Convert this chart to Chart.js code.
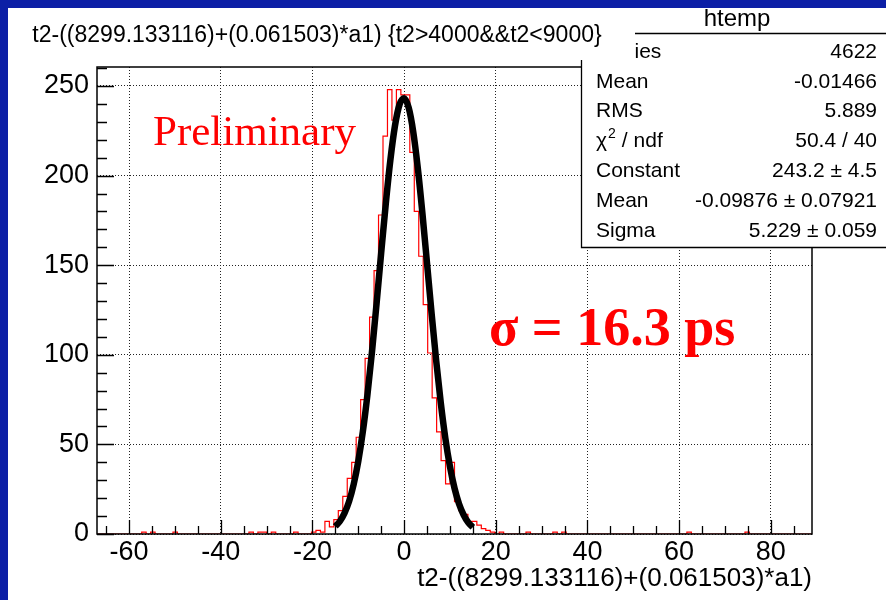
<!DOCTYPE html>
<html><head><meta charset="utf-8">
<script src="https://cdn.jsdelivr.net/npm/chart.js@4.4.1/dist/chart.umd.min.js"></script>
<style>html,body{margin:0;padding:0;background:#fff;overflow:hidden}canvas{display:block}</style>
</head><body>
<canvas id="c" width="886" height="600" style="width:886px;height:600px"></canvas>
<script>
// ---- data ----
const histTitle = 't2-((8299.133116)+(0.061503)*a1) {t2>4000&&t2<9000}';
const xAxisTitle = 't2-((8299.133116)+(0.061503)*a1)';
const xTickValues = [-60, -40, -20, 0, 20, 40, 60, 80];
const yTickValues = [0, 50, 100, 150, 200, 250];
const xRange = [-67, 89];
const yMax = 260.6;
// 160 bins between xRange[0] and xRange[1]
const binCounts = [
  0,0,0,0,0,0,0,0,0,0, 0,1,0,1,0,0,0,0,1,0,
  0,0,0,0,0,0,0,0,0,0, 0,0,0,0,0,1,0,1,1,0,
  1,0,0,0,0,1,0,0,0,1, 2,1,7,4,8,13,21,31,40,54,
  75,98,121,147,178,222,248,231,248,245, 245,213,180,155,128,101,76,57,41,28,
  40,18,13,11,7,7,5,3,2,1, 0,1,0,0,0,0,0,1,0,0,
  0,0,0,1,0,1,0,0,0,0, 0,0,0,0,0,0,0,0,0,0,
  0,0,0,0,0,0,0,0,0,0, 0,0,0,1,0,0,0,0,0,0,
  0,0,0,0,0,0,1,0,0,0, 0,0,0,0,0,0,0,0,0,0
];
const fitX = [-15,-14,-13,-12,-11,-10,-9,-8,-7,-6,-5,-4,-3,-2,-1,0,1,2,3,4,5,6,7,8,9,10,11,12,13,14,15];
const fitY = [4.2,7.1,11.6,18.2,27.7,40.5,57.1,77.7,101.8,128.7,156.8,184.1,208.5,227.6,239.6,243.2,237.9,224.4,204.0,178.9,151.2,123.2,96.8,73.3,53.5,37.7,25.6,16.7,10.6,6.4,3.8];
const statsName = 'htemp';
const statsLabels = ['Entries', 'Mean', 'RMS', 'CHI2', 'Constant', 'Mean', 'Sigma'];
const statsValues = ['4622', '-0.01466', '5.889', '50.4 / 40', '243.2 \u00b1 4.5', '-0.09876 \u00b1 0.07921', '5.229 \u00b1 0.059'];
const noteText = 'Preliminary';
const sigmaText = '\u03c3 = 16.3 ps';

// ---- build step points from bins ----
const nBins = binCounts.length;
const bw = (xRange[1] - xRange[0]) / nBins;
const histPoints = binCounts.map((c, i) => ({x: xRange[0] + i * bw, y: c}));
histPoints.push({x: xRange[1], y: binCounts[nBins - 1]});
const fitPoints = fitX.map((x, i) => ({x: x, y: fitY[i]}));

const SANS = '"Liberation Sans", Arial, sans-serif';
const SERIF = '"Liberation Serif", "Times New Roman", serif';
const BLUE = '#0c1fa6';

const overlay = {
  id: 'overlay',
  beforeDraw(c) {
    const g = c.ctx; g.save(); g.fillStyle = '#fff'; g.fillRect(0, 0, c.width, c.height); g.restore();
  },
  afterDatasetsDraw(c) {
    const g = c.ctx, a = c.chartArea, xs = c.scales.x, ys = c.scales.y;
    g.save();
    // frame
    g.strokeStyle = '#000'; g.lineWidth = 1.5;
    g.strokeRect(a.left, a.top, a.right - a.left, a.bottom - a.top);
    // ticks (inside)
    g.lineWidth = 1.3; g.beginPath();
    for (let v = -65; v <= 85; v += 5) {
      const px = Math.round(xs.getPixelForValue(v)) + 0.5;
      const L = (v % 20 === 0) ? 14 : 8;
      g.moveTo(px, a.bottom); g.lineTo(px, a.bottom - L);
    }
    for (let v = 0; v <= 260; v += 10) {
      const py = Math.round(ys.getPixelForValue(v)) + 0.5;
      const L = (v % 50 === 0) ? 17 : 10;
      g.moveTo(a.left, py); g.lineTo(a.left + L, py);
    }
    g.stroke();
    // texts in the pad
    g.fillStyle = '#ff0000'; g.textBaseline = 'alphabetic'; g.textAlign = 'left';
    g.font = '43px ' + SERIF; g.fillText(noteText, 153, 145);
    g.font = 'bold 54px ' + SERIF; g.fillText(sigmaText, 489, 345);
    g.restore();
  },
  afterDraw(c) {
    const g = c.ctx;
    g.save();
    // stats box
    g.fillStyle = '#fff'; g.fillRect(581, 0, 320, 247);
    g.strokeStyle = '#000'; g.lineWidth = 1.3;
    g.beginPath(); g.moveTo(581.5, 0); g.lineTo(581.5, 247.5); g.lineTo(890, 247.5);
    g.moveTo(581, 33.5); g.lineTo(890, 33.5); g.stroke();
    g.fillStyle = '#000'; g.textBaseline = 'middle';
    g.font = '24px ' + SANS; g.textAlign = 'center'; g.fillText(statsName, 737, 19);
    g.font = '21px ' + SANS;
    for (let i = 0; i < statsLabels.length; i++) {
      const y = 52 + i * 29.8;
      g.textAlign = 'left';
      if (statsLabels[i] === 'CHI2') {
        g.fillText('\u03c7', 596, y);
        const w = g.measureText('\u03c7').width;
        g.font = '14px ' + SANS; g.fillText('2', 596 + w + 1, y - 7);
        g.font = '21px ' + SANS; g.fillText(' / ndf', 596 + w + 9, y);
      } else {
        g.fillText(statsLabels[i], 596, y);
      }
      g.textAlign = 'right'; g.fillText(statsValues[i], 877, y);
    }
    // title pave
    g.fillStyle = '#fff'; g.fillRect(0, 0, 635, 60);
    g.fillStyle = '#000'; g.textAlign = 'center'; g.font = '23px ' + SANS;
    g.fillText(histTitle, 317, 36);
    // slide frame (blue)
    g.fillStyle = BLUE; g.fillRect(0, 0, 886, 8); g.fillRect(0, 0, 8, 600);
    g.restore();
  }
};

new Chart(document.getElementById('c'), {
  type: 'line',
  data: {
    datasets: [
      {label: 'fit', data: fitPoints, borderColor: '#000', borderWidth: 6.5, pointRadius: 0,
       cubicInterpolationMode: 'monotone', fill: false},
      {label: 'htemp', data: histPoints, borderColor: '#ff0000', borderWidth: 1.2, pointRadius: 0,
       stepped: 'after', fill: false}
    ]
  },
  options: {
    responsive: false, animation: false, devicePixelRatio: 1,
    layout: {padding: {top: 67, right: 74, left: 0, bottom: 0}},
    plugins: {legend: {display: false}, tooltip: {enabled: false}, title: {display: false}},
    scales: {
      x: {
        type: 'linear', min: xRange[0], max: xRange[1],
        afterBuildTicks: s => { s.ticks = xTickValues.map(v => ({value: v})); },
        afterFit: s => { s.height = 66; },
        grid: {drawTicks: false, color: '#222', lineWidth: 1},
        border: {display: false, dash: [1, 2]},
        ticks: {font: {family: SANS, size: 27}, color: '#000', padding: 2, maxRotation: 0, autoSkip: false},
        title: {display: true, text: xAxisTitle, align: 'end', color: '#000',
                font: {family: SANS, size: 26}, padding: {top: 0, bottom: 6}}
      },
      y: {
        type: 'linear', min: 0, max: yMax,
        afterBuildTicks: s => { s.ticks = yTickValues.map(v => ({value: v})); },
        afterFit: s => { s.width = 97; },
        grid: {drawTicks: false, color: '#222', lineWidth: 1},
        border: {display: false, dash: [1, 2]},
        ticks: {font: {family: SANS, size: 27}, color: '#000', padding: 8, autoSkip: false}
      }
    }
  },
  plugins: [overlay]
});
</script>
</body></html>
